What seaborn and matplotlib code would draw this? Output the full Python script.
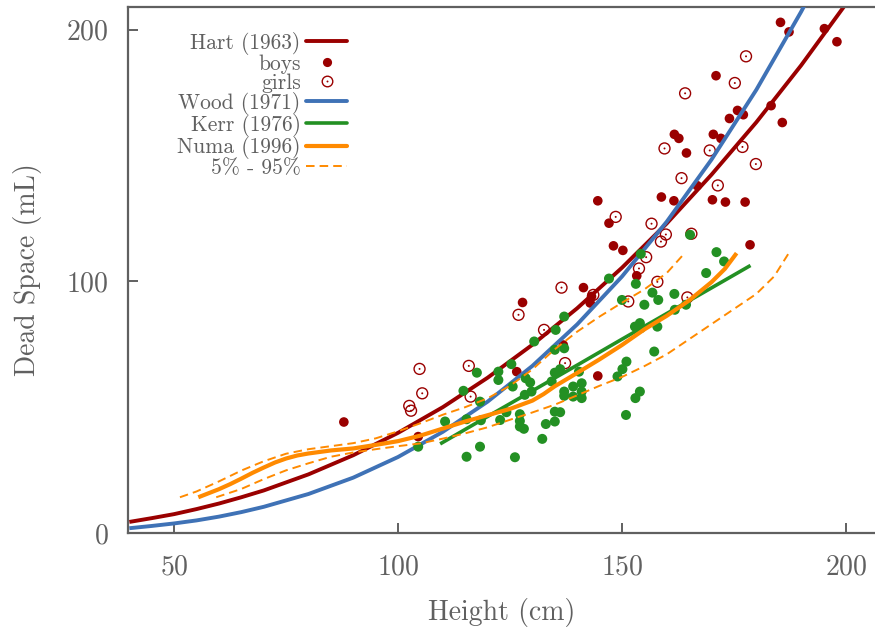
import numpy as np
import pandas as pd
import matplotlib
matplotlib.use("Agg")
import matplotlib.pyplot as plt
import seaborn as sns
from matplotlib.lines import Line2D
from matplotlib.legend_handler import HandlerTuple

# ---------------- data ----------------
hart_x = [40, 45, 50, 55, 60, 65, 70, 80, 90, 100, 110, 120, 130, 140, 150, 160, 170, 180, 190, 200, 202]
hart_y = [4.4, 5.9, 7.5, 9.5, 11.7, 14.2, 16.9, 23.3, 30.9, 39.8, 50.0, 61.7, 74.8, 89.3, 105.4, 123.0, 142.4, 163.2, 185.8, 210.2, 215.0]

wood_x = [40, 45, 50, 55, 60, 65, 70, 80, 90, 100, 110, 120, 130, 140, 150, 160, 170, 180, 190, 195]
wood_y = [1.9, 2.8, 3.8, 5.0, 6.5, 8.3, 10.4, 15.5, 22.0, 30.2, 40.2, 52.2, 66.4, 82.9, 101.9, 123.7, 148.4, 176.1, 207.1, 223.9]

kerr_x = [109.4, 120, 130, 140, 150, 160, 170, 178.7]
kerr_y = [35.4, 46.3, 56.5, 66.7, 77.0, 87.2, 97.4, 106.3]

numa_x = [55.4, 60, 62.5, 65, 67.5, 70, 72.5, 75, 77.5, 80, 85, 90, 95, 100, 105, 110, 115, 120, 125, 130,
          132.5, 135, 140, 145, 150, 155, 160, 165, 170, 173, 175.6]
numa_y = [14.2, 17.4, 19.4, 21.6, 23.9, 26.0, 28.0, 29.6, 30.8, 31.6, 32.8, 33.6, 35.0, 36.5, 38.7, 41.5, 44.3, 46.8, 49.3, 52.6,
          55.2, 58.3, 63.6, 69.0, 74.7, 80.9, 86.3, 92.4, 99.7, 105.0, 111.2]

p95_x = [51.3, 55, 60, 65, 70, 75, 80, 85, 90, 95, 100, 105, 110, 115, 120, 125, 130, 135, 140, 145, 150, 155, 160, 163.8]
p95_y = [14.2, 16.5, 20.5, 24.8, 28.5, 31.5, 33.3, 34.5, 35.7, 37.6, 40.4, 43.6, 47.0, 50.0, 53.5, 58.5, 65.0, 73.0, 80.0, 86.0, 91.5, 96.8, 103.3, 110.8]

p05_x = [59.4, 65, 70, 75, 80, 85, 90, 95, 100, 105, 110, 115, 120, 125, 130, 135, 140, 145, 150, 155, 160, 165, 170, 175, 180, 184, 187.1]
p05_y = [14.2, 17.5, 21.4, 24.9, 27.7, 30.3, 32.0, 33.3, 34.5, 35.6, 37.5, 39.6, 42.0, 45.0, 47.9, 51.0, 54.7, 58.5, 62.0, 66.3, 71.0, 77.0, 83.0, 89.0, 95.0, 102.0, 110.8]

boys_x = [87.9, 104.5, 126.5, 127.8, 136.9, 141.4, 143.2, 142.9, 144.6, 150.2, 147.1, 148.1, 153.3, 178.6,
          171.0, 161.7, 162.7, 164.4, 174.0, 175.8, 177.1, 170.4, 172.1, 166.8, 144.6, 158.8, 161.6, 170.2,
          173.1, 177.5, 185.4, 187.3, 195.2, 198.0, 183.3, 185.8]
boys_y = [44.1, 38.3, 64.1, 91.6, 74.7, 97.5, 94.0, 91.4, 62.4, 112.3, 123.1, 114.1, 102.2, 114.5,
          181.7, 158.4, 156.8, 151.0, 164.7, 167.9, 166.2, 158.4, 156.8, 138.0, 132.0, 133.5, 132.0, 132.4,
          131.5, 131.5, 202.9, 199.1, 200.4, 195.2, 169.8, 163.1]

girls_x = [104.8, 105.4, 102.5, 102.9, 115.8, 116.2, 136.5, 126.9, 132.6, 137.3, 143.6, 151.4, 156.6, 159.8,
           158.7, 165.5, 155.4, 153.8, 157.9, 164.6, 164.1, 175.2, 159.5, 169.6, 176.9, 179.9, 163.3, 171.4,
           148.6, 177.7]
girls_y = [65.2, 55.5, 50.5, 48.6, 66.4, 54.2, 97.5, 86.7, 80.7, 67.5, 94.6, 92.0, 122.9, 118.6,
           115.8, 118.9, 109.6, 105.1, 99.8, 93.6, 174.7, 178.8, 152.8, 152.0, 153.4, 146.6, 141.0, 138.1,
           125.6, 189.4]

green_x = [147.1, 150.0, 137.1, 135.2, 130.4, 135.0, 137.1, 125.3, 122.4, 117.6, 122.4, 125.6, 114.6, 118.3,
           128.5, 129.5, 134.3, 135.0, 136.2, 140.4, 128.3, 129.8, 139.1, 141.0, 141.0, 141.0, 137.1, 137.1,
           139.1, 151.0, 150.1, 149.0, 150.9, 110.5, 115.3, 118.5, 124.2, 122.8, 127.2, 127.2, 127.2, 128.1,
           133.0, 135.0, 136.2, 135.0, 132.2, 104.5, 115.3, 118.3, 126.1, 165.2, 171.1, 172.8, 168.8, 154.2,
           153.1, 156.8, 158.1, 161.7, 155.0, 152.9, 154.0, 154.2, 157.9, 161.8, 164.3, 157.2, 154.0, 153.0]
green_y = [101.1, 92.6, 86.0, 80.7, 76.1, 72.8, 73.4, 67.1, 64.1, 63.7, 60.8, 58.2, 56.5, 52.2,
           61.5, 59.8, 60.2, 63.7, 65.1, 64.1, 54.9, 56.2, 58.2, 59.5, 56.2, 53.6, 56.2, 54.5,
           54.2, 68.1, 65.1, 62.2, 46.9, 44.3, 45.2, 44.8, 48.0, 44.9, 47.2, 44.5, 42.3, 41.4,
           43.3, 48.2, 48.0, 44.3, 37.4, 34.3, 30.3, 34.3, 30.1, 118.5, 111.6, 107.9, 103.3, 110.9,
           99.0, 95.5, 92.6, 95.0, 90.7, 82.0, 83.4, 81.4, 82.0, 88.7, 90.7, 72.1, 56.2, 53.6]

x_ticks = [50, 100, 150, 200]
y_ticks = [0, 100, 200]

# ---------------- style ----------------
RED = "#9a0000"
BLUE = "#3f72b6"
GREEN = "#239023"
ORANGE = "#ff8a00"
GRAY = "#606060"

sns.set_theme(style="white")
plt.rcParams["font.family"] = ["cmr10", "DejaVu Serif"]
plt.rcParams["axes.formatter.use_mathtext"] = True
plt.rcParams["text.color"] = GRAY

fig = plt.figure(figsize=(8.75, 6.28), dpi=100)
ax = fig.add_axes([128 / 875, 95 / 628, 747 / 875, 526 / 628])

def line(x, y, color, lw, z=2):
    sns.lineplot(x=x, y=y, ax=ax, color=color, linewidth=lw,
                 sort=False, estimator=None, zorder=z, legend=False)
    ax.lines[-1].set_solid_capstyle("butt")

LW_MAIN = 2.8
line(hart_x, hart_y, RED, LW_MAIN, z=2)
sns.scatterplot(x=boys_x, y=boys_y, ax=ax, color=RED, s=48, edgecolor="none", zorder=3, legend=False)
sns.scatterplot(x=girls_x, y=girls_y, ax=ax, marker="o", s=62, facecolors="none",
                edgecolor=RED, linewidth=1.0, zorder=3, legend=False)
sns.scatterplot(x=girls_x, y=girls_y, ax=ax, marker="o", s=2, color=RED, edgecolor="none",
                zorder=3, legend=False)
line(wood_x, wood_y, BLUE, LW_MAIN, z=4)
sns.scatterplot(x=green_x, y=green_y, ax=ax, color=GREEN, s=52, edgecolor="none", zorder=5, legend=False)
line(kerr_x, kerr_y, GREEN, 2.6, z=6)
line(numa_x, numa_y, ORANGE, 3.0, z=7)
dash = (4.4, 2.6)
for xs, ys in ((p95_x, p95_y), (p05_x, p05_y)):
    sns.lineplot(x=xs, y=ys, ax=ax, color=ORANGE, linewidth=1.4,
                 sort=False, estimator=None, zorder=7, legend=False)
    ax.lines[-1].set_dashes(dash)

ax.set_xlim(39.7, 206.5)
ax.set_ylim(0, 209)
ax.set_xticks(x_ticks)
ax.set_yticks(y_ticks)
ax.set_xlabel("Height (cm)", fontsize=20, color=GRAY, labelpad=13)
ax.set_ylabel("Dead Space (mL)", fontsize=20, color=GRAY, labelpad=17)
ax.tick_params(axis="both", direction="in", length=7, width=1.4, color=GRAY,
               labelcolor=GRAY, labelsize=20, bottom=True, left=True, top=False, right=False)
ax.tick_params(axis="y", pad=14)
ax.tick_params(axis="x", pad=15)
for side in ("left", "bottom", "top"):
    ax.spines[side].set_color(GRAY)
    ax.spines[side].set_linewidth(1.6)
ax.spines["right"].set_visible(False)
ax.grid(False)

# ---------------- legend (gnuplot style: text left, sample right) ----------------
h_hart = Line2D([], [], color=RED, lw=LW_MAIN)
h_boys = Line2D([], [], color=RED, marker="o", ls="none", markersize=6.6, markeredgewidth=0)
h_girl_o = Line2D([], [], color=RED, marker="o", ls="none", markersize=7.6, markerfacecolor="none",
                  markeredgewidth=1.0)
h_girl_d = Line2D([], [], color=RED, marker="o", ls="none", markersize=1.4, markeredgewidth=0)
h_wood = Line2D([], [], color=BLUE, lw=LW_MAIN)
h_kerr = Line2D([], [], color=GREEN, lw=2.6)
h_numa = Line2D([], [], color=ORANGE, lw=3.0)
h_pct = Line2D([], [], color=ORANGE, lw=1.4, dashes=dash)
handles = [h_hart, h_boys, (h_girl_o, h_girl_d), h_wood, h_kerr, h_numa, h_pct]
labels = ["Hart (1963)", "boys", "girls", "Wood (1971)", "Kerr (1976)", "Numa (1996)", "5% - 95%"]
leg = ax.legend(handles, labels, loc="upper right", bbox_to_anchor=(347 / 875, (628 - 32) / 628),
                bbox_transform=fig.transFigure, frameon=False, markerfirst=False,
                fontsize=15.5, labelspacing=-0.035, handlelength=1.9, handletextpad=0.25,
                borderpad=0.0, borderaxespad=0.0,
                handler_map={tuple: HandlerTuple(ndivide=1)})
for t in leg.get_texts():
    t.set_color(GRAY)

fig.savefig("out.png", dpi=100)
